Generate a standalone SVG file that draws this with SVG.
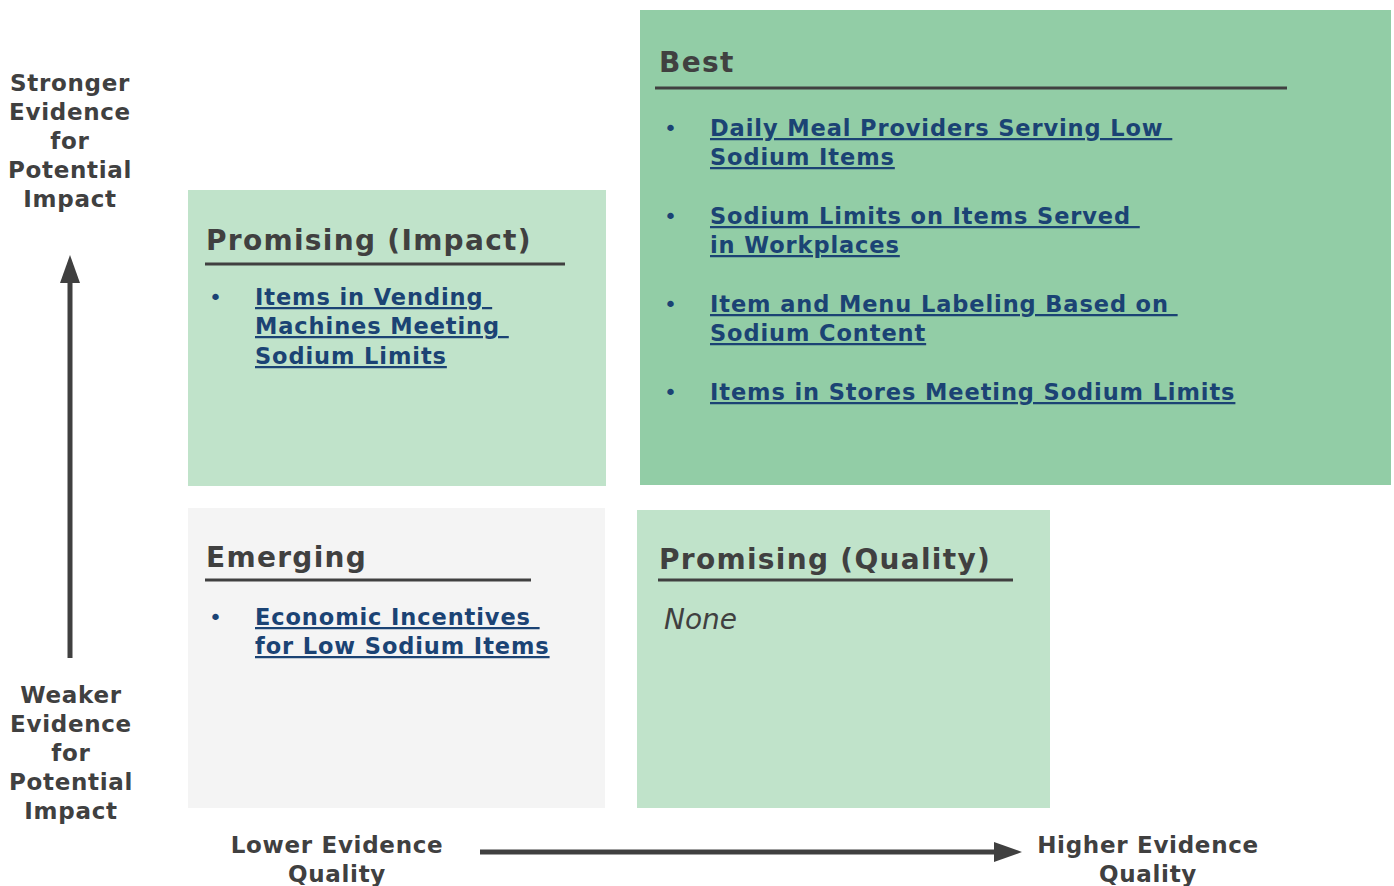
<svg xmlns="http://www.w3.org/2000/svg" width="1394" height="886" viewBox="0 0 1394 886">
<style>
.t{font-family:"DejaVu Sans","Liberation Sans",sans-serif;font-weight:bold;fill:#404040}
.ax{font-size:23px;text-anchor:middle;letter-spacing:0.7px}
.title{font-size:28px;letter-spacing:1.3px}
.link{font-family:"DejaVu Sans","Liberation Sans",sans-serif;font-weight:bold;font-size:22.5px;letter-spacing:0.9px;fill:#1B4374;text-decoration:underline;white-space:pre}
.bul{font-family:"DejaVu Sans","Liberation Sans",sans-serif;font-size:22px;fill:#1B4374}
.rule{stroke:#404040;stroke-width:3}
</style>
<rect width="1394" height="886" fill="#fff"/>
<g id="best">
<rect x="640" y="10" width="751" height="475" fill="#92CDA6"/>
<text class="t title" x="659" y="72">Best</text>
<line class="rule" x1="655" y1="88" x2="1287" y2="88"/>
<text class="bul" x="664" y="136">•</text>
<text class="link" x="710" y="136">Daily Meal Providers Serving Low </text>
<text class="link" x="710" y="165">Sodium Items</text>
<text class="bul" x="664" y="224">•</text>
<text class="link" x="710" y="224">Sodium Limits on Items Served </text>
<text class="link" x="710" y="253">in Workplaces</text>
<text class="bul" x="664" y="312">•</text>
<text class="link" x="710" y="312">Item and Menu Labeling Based on </text>
<text class="link" x="710" y="341">Sodium Content</text>
<text class="bul" x="664" y="400">•</text>
<text class="link" x="710" y="400">Items in Stores Meeting Sodium Limits</text>
</g>
<g id="promising-impact">
<rect x="188" y="190" width="418" height="296" fill="#C0E3CA"/>
<text class="t title" x="206" y="250">Promising (Impact)</text>
<line class="rule" x1="205" y1="264" x2="565" y2="264"/>
<text class="bul" x="209" y="305">•</text>
<text class="link" x="255" y="305">Items in Vending </text>
<text class="link" x="255" y="334">Machines Meeting </text>
<text class="link" x="255" y="364">Sodium Limits</text>
</g>
<g id="emerging">
<rect x="188" y="508" width="417" height="300" fill="#F4F4F4"/>
<text class="t title" x="206" y="567">Emerging</text>
<line class="rule" x1="205" y1="580" x2="531" y2="580"/>
<text class="bul" x="209" y="625">•</text>
<text class="link" x="255" y="625">Economic Incentives </text>
<text class="link" x="255" y="654">for Low Sodium Items</text>
</g>
<g id="promising-quality">
<rect x="637" y="510" width="413" height="298" fill="#C0E3CA"/>
<text class="t title" x="659" y="569">Promising (Quality)</text>
<line class="rule" x1="658" y1="580" x2="1013" y2="580"/>
<text x="664" y="629" font-family="DejaVu Sans, sans-serif" font-size="28" font-style="italic" fill="#404040">None</text>
</g>
<g id="axis-labels">
<text class="t ax"><tspan x="70" y="91">Stronger</tspan><tspan x="70" y="120">Evidence</tspan><tspan x="70" y="149">for</tspan><tspan x="70" y="178">Potential</tspan><tspan x="70" y="207">Impact</tspan></text>
<text class="t ax"><tspan x="71" y="703">Weaker</tspan><tspan x="71" y="732">Evidence</tspan><tspan x="71" y="761">for</tspan><tspan x="71" y="790">Potential</tspan><tspan x="71" y="819">Impact</tspan></text>
<text class="t ax"><tspan x="337" y="853">Lower Evidence</tspan><tspan x="337" y="882">Quality</tspan></text>
<text class="t ax"><tspan x="1148" y="853">Higher Evidence</tspan><tspan x="1148" y="882">Quality</tspan></text>
</g>
<g id="connectors">
<line x1="70" y1="658" x2="70" y2="280" stroke="#404040" stroke-width="5"/>
<path d="M70,255 L80,283 L60,283 Z" fill="#404040"/>
<line x1="480" y1="852" x2="996" y2="852" stroke="#404040" stroke-width="5"/>
<path d="M1022,852 L994,842 L994,862 Z" fill="#404040"/>
</g>
</svg>
